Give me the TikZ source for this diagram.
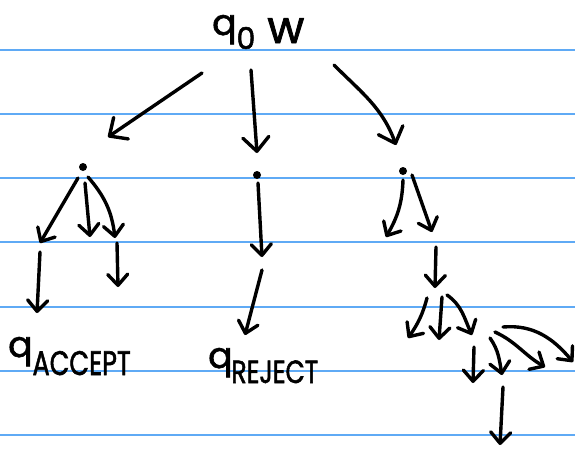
\documentclass[tikz,border=0pt]{standalone}
\usepackage{fontspec}
\setmainfont{Poppins}[FakeBold=1.8]
\usetikzlibrary{arrows.meta}
\definecolor{rulecol}{RGB}{95,170,245}
\begin{document}
\begin{tikzpicture}[x=1pt,y=1pt,
  ink/.style={line width=3.4pt,line cap=round,line join=round,black},
  arr/.style={ink,-{Straight Barb[length=11pt,width=20pt,round]}},
  bigarr/.style={ink,-{Straight Barb[length=14pt,width=26pt,round]}},
  dot/.style={circle,fill=black,inner sep=0pt,minimum size=8pt},
  ruling/.style={draw=rulecol,line width=1.8pt},
  hand/.style={inner sep=0pt,anchor=base west}]
\useasboundingbox (0,0) rectangle (575,-450);

% ruled paper
\foreach \y in {50,114,178,242,307,371,435} \draw[ruling] (0,-\y) -- (575,-\y);

% labels
\node[hand] (root) at (212,-35) {\fontsize{36}{36}\selectfont q\raisebox{-14pt}{\fontsize{30}{30}\selectfont 0}\hspace{12pt}\raisebox{-8pt}{\fontsize{45}{45}\selectfont w}};
\node[hand] (acc) at (8,-357) {\fontsize{36}{36}\selectfont q\raisebox{-18pt}{\scalebox{0.75}[1]{\fontsize{34}{34}\selectfont ACCEPT}}};
\node[hand] (rej) at (208,-368) {\fontsize{36}{36}\selectfont q\hspace{-1pt}\raisebox{-15pt}{\scalebox{0.78}[1]{\fontsize{32}{32}\selectfont REJECT}}};

% branching points
\node[dot] (l) at (83,-167) {};
\node[dot] (m) at (257,-175) {};
\node[dot] (r) at (403,-171) {};

% connector end points
\coordinate (a1s) at (202,-73);  \coordinate (a1e) at (108,-137);
\coordinate (a2s) at (251,-70);  \coordinate (a2e) at (257,-153);
\coordinate (a3s) at (334,-65);  \coordinate (a3e) at (396,-145);

\coordinate (l1s) at (78,-178);  \coordinate (l1e) at (40,-243);
\coordinate (l2s) at (85,-183);  \coordinate (l2e) at (90,-237);
\coordinate (l3s) at (88,-177);  \coordinate (l3e) at (115,-238);
\coordinate (l4s) at (40,-252);  \coordinate (l4e) at (37,-313);
\coordinate (l5s) at (117,-243); \coordinate (l5e) at (118,-287);

\coordinate (m1s) at (258,-183); \coordinate (m1e) at (262,-257);
\coordinate (m2s) at (262,-270); \coordinate (m2e) at (245,-335);

\coordinate (r1s) at (403,-180); \coordinate (r1e) at (386,-237);
\coordinate (r2s) at (412,-175); \coordinate (r2e) at (432,-232);
\coordinate (r3s) at (436,-247); \coordinate (r3e) at (435,-288);

\coordinate (n1s) at (427,-298); \coordinate (n1e) at (408,-338);
\coordinate (n2s) at (442,-297); \coordinate (n2e) at (439,-340);
\coordinate (n3s) at (447,-295); \coordinate (n3e) at (472,-335);

\coordinate (p1s) at (474,-347); \coordinate (p1e) at (473,-383);
\coordinate (p2s) at (490,-338); \coordinate (p2e) at (502,-375);
\coordinate (p3s) at (495,-332); \coordinate (p3e) at (545,-367);
\coordinate (p4s) at (503,-327); \coordinate (p4e) at (573,-362);
\coordinate (p5s) at (503,-387); \coordinate (p5e) at (500,-445);

% first level
\draw[bigarr] (a1s) -- (a1e);
\draw[bigarr] (a2s) -- (a2e);
\draw[bigarr] (a3s) to[out=-45,in=110] (a3e);

% left branch
\draw[arr] (l1s) -- (l1e);
\draw[arr] (l2s) -- (l2e);
\draw[arr] (l3s) to[out=-49,in=97] (l3e);
\draw[arr] (l4s) -- (l4e);
\draw[arr] (l5s) -- (l5e);

% middle branch
\draw[arr] (m1s) -- (m1e);
\draw[arr] (m2s) -- (m2e);

% right branch
\draw[arr] (r1s) to[out=-92,in=60] (r1e);
\draw[arr] (r2s) -- (r2e);
\draw[arr] (r3s) -- (r3e);
\draw[arr] (n1s) to[out=-105,in=55] (n1e);
\draw[arr] (n2s) -- (n2e);
\draw[arr] (n3s) to[out=-35,in=115] (n3e);
\draw[arr] (p1s) -- (p1e);
\draw[arr] (p2s) to[out=-55,in=100] (p2e);
\draw[arr] (p3s) to[out=-25,in=150] (p3e);
\draw[arr] (p4s) to[out=5,in=130] (p4e);
\draw[arr] (p5s) -- (p5e);
\end{tikzpicture}
\end{document}
